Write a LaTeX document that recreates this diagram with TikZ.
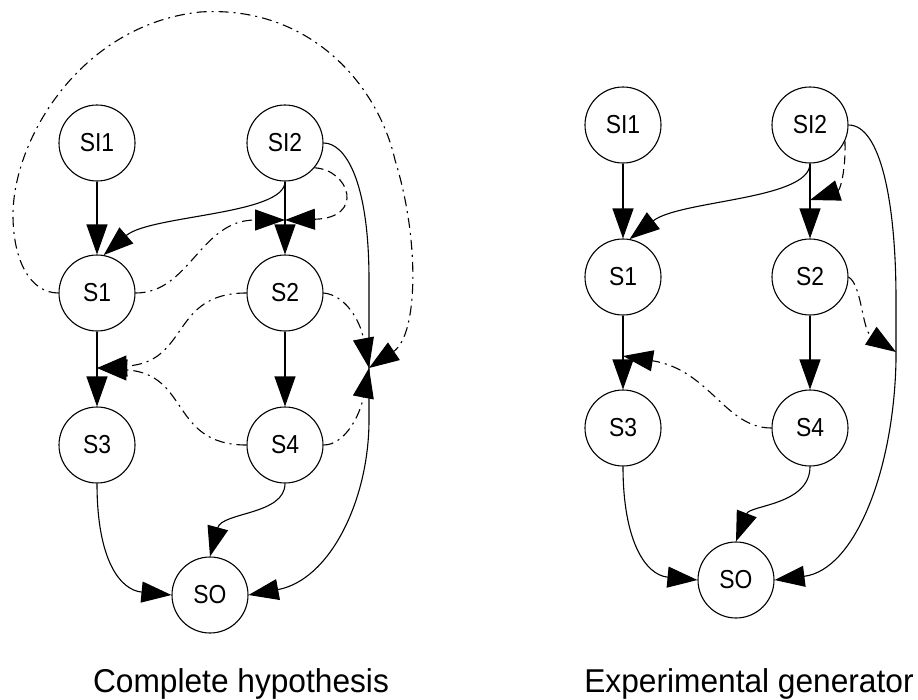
\documentclass[tikz,border=0pt]{standalone}
\usepackage{fontspec}
\setmainfont{Liberation Sans}
\usetikzlibrary{arrows.meta}
\newcommand\statelabel[1]{\scalebox{0.88}[1]{#1}}
\newcommand\captiontext[1]{\scalebox{0.96}[1]{#1}}
\begin{document}
\begin{tikzpicture}[x=1pt,y=-1pt,
  state/.style={circle,draw,line width=1.1pt,minimum size=76pt,inner sep=0pt,
    font=\fontsize{26}{26}\selectfont},
  edge/.style={line width=1.1pt,-{Triangle[length=30pt,width=21pt]}},
  dashdot/.style={edge,dash pattern=on 10pt off 5pt on 2pt off 5pt},
  dashline/.style={edge,dash pattern=on 9pt off 5pt},
  caption/.style={font=\fontsize{33}{33}\selectfont,anchor=base}]
\useasboundingbox (0,0) rectangle (918,699);

% ---------- complete hypothesis ----------
\node[state] (hSIa) at (97,143)  {\statelabel{SI1}};
\node[state] (hSIb) at (285,143) {\statelabel{SI2}};
\node[state] (hSa)  at (97,293)  {\statelabel{S1}};
\node[state] (hSb)  at (285,293) {\statelabel{S2}};
\node[state] (hSc)  at (97,445)  {\statelabel{S3}};
\node[state] (hSd)  at (285,445) {\statelabel{S4}};
\node[state] (hSO)  at (210,595) {\statelabel{SO}};

% points on edges that other arrows point at
\coordinate (hJa) at (285,220);
\coordinate (hJb) at (369,368);
\coordinate (hJc) at (97,368);

\draw[edge] (hSIa) -- (hSa);
\draw[edge] (hSIb.south) .. controls (285,215) and (150,215) .. (hSa.80);
\draw[edge] (hSIb) -- (hSb);
\draw[edge] (hSa) -- (hSc);
\draw[edge] (hSb) -- (hSd);
\draw[edge] (hSd.south) .. controls (285,515) and (222,512) .. (hSO.north);
\draw[edge] (hSc.south) .. controls (97,560) and (120,590) .. (hSO.west);
\draw[edge] (hSIb.east) .. controls (345,143) and (369,180) .. (369,280)
  -- (369,420) .. controls (369,500) and (330,580) .. (hSO.east);

\draw[dashdot] (hSa.east) .. controls (190,293) and (200,220) .. (hJa);
\draw[dashline] (hSIb.-40) .. controls (350,170) and (365,218) .. (hJa);
\draw[dashdot] (hSb.west) .. controls (170,293) and (190,362) .. (hJc);
\draw[dashdot] (hSd.west) .. controls (170,445) and (190,374) .. (hJc);
\draw[dashdot] (hSb.east) .. controls (345,295) and (360,320) .. (hJb);
\draw[dashdot] (hSd.east) .. controls (345,445) and (360,415) .. (hJb);
\draw[dashdot] (hSa.west) .. controls (30,293) and (13,260) .. (13,215)
  .. controls (13,140) and (80,25) .. (200,12)
  .. controls (310,5) and (378,85) .. (395,160)
  .. controls (420,240) and (418,335) .. (hJb);

% ---------- experimental generator ----------
\node[state] (gSIa) at (623,125) {\statelabel{SI1}};
\node[state] (gSIb) at (810,125) {\statelabel{SI2}};
\node[state] (gSa)  at (623,277) {\statelabel{S1}};
\node[state] (gSb)  at (810,277) {\statelabel{S2}};
\node[state] (gSc)  at (623,428) {\statelabel{S3}};
\node[state] (gSd)  at (810,428) {\statelabel{S4}};
\node[state] (gSO)  at (736,580) {\statelabel{SO}};

\coordinate (gJa) at (810,200);
\coordinate (gJb) at (896,352);
\coordinate (gJc) at (623,356);

\draw[edge] (gSIa) -- (gSa);
\draw[edge] (gSIb.south) .. controls (810,200) and (680,200) .. (gSa.80);
\draw[edge] (gSIb) -- (gSb);
\draw[edge] (gSa) -- (gSc);
\draw[edge] (gSb) -- (gSd);
\draw[edge] (gSd.south) .. controls (810,505) and (750,505) .. (gSO.north);
\draw[edge] (gSc.south) .. controls (623,540) and (645,575) .. (gSO.west);
\draw[edge] (gSIb.east) .. controls (880,125) and (896,200) .. (896,300)
  -- (896,360) .. controls (894,470) and (855,570) .. (gSO.east);

\draw[dashline] (gSIb.-25) .. controls (846,170) and (840,190) .. (gJa);
\draw[dashdot] (gSb.east) .. controls (862,285) and (862,330) .. (gJb);
\draw[dashdot] (gSd.west) .. controls (725,428) and (710,370) .. (gJc);

% ---------- captions ----------
\node[caption] (capH) at (241,692) {\captiontext{Complete hypothesis}};
\node[caption] (capG) at (749,692) {\captiontext{Experimental generator}};
\end{tikzpicture}
\end{document}
